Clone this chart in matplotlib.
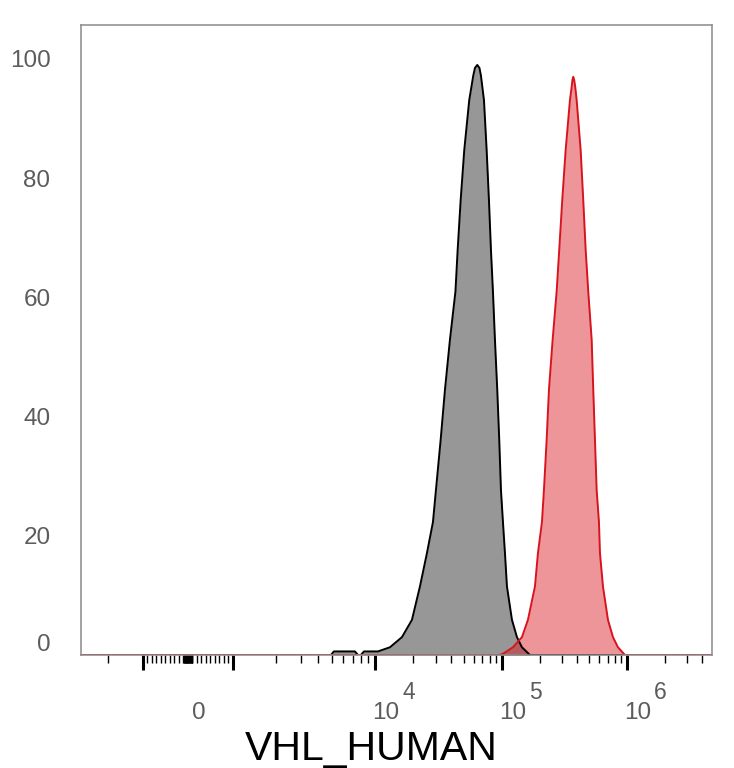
import matplotlib
matplotlib.use("Agg")
import matplotlib.pyplot as plt
import matplotlib.transforms as mtransforms
import numpy as np

plt.rcParams['font.family'] = ['Liberation Sans', 'DejaVu Sans']

# histogram traces (intensity, % of max)
gray_x = [-3420, 4900, 5140, 7230, 7590, 7960, 8370, 10560, 13130, 16320, 19560,
          22610, 25670, 28620, 30220, 32910, 35580, 38950, 43040, 44800, 47290,
          50480, 55260, 59430, 61300, 63920, 66490, 68330, 72170, 75780, 79000,
          81900, 84930, 88070, 91840, 95210, 98200, 101860, 105680, 109650,
          120230, 131830, 144540, 167490, 4.79e6]
gray_y = [0, 0, 0.6, 0.6, 0, 0, 0.6, 0.6, 1.3, 3.0, 5.9,
          11.5, 17.1, 22.3, 27.7, 36.1, 44.5, 52.9, 61.0, 68.0, 76.3,
          84.7, 93.1, 97.2, 98.5, 99.0, 98.5, 97.2, 93.1, 84.7, 76.3,
          68.0, 61.0, 52.9, 44.5, 36.1, 27.7, 22.3, 17.1, 11.5,
          5.9, 3.0, 1.3, 0, 0]

red_x = [-3420, 95000, 101860, 122460, 144540, 161440, 183650, 194090, 208930,
         216770, 227830, 237680, 254400, 273900, 287310, 303620, 323230, 349940,
         361100, 366400, 371870, 378100, 385800, 395910, 426170, 447090, 467290,
         490200, 522000, 537600, 554600, 572200, 597000, 608100, 642700, 704700,
         772700, 847200, 963800, 4.79e6]
red_y = [0, 0, 0.2, 1.3, 3.0, 5.9, 11.5, 17.1, 22.3,
         27.7, 36.1, 44.5, 52.9, 61.0, 68.0, 76.3, 84.7, 93.1,
         95.3, 96.5, 97.0, 96.5, 95.3, 93.1, 84.7, 76.3, 68.0,
         61.0, 52.9, 44.5, 36.1, 27.7, 22.3, 17.1, 11.5, 5.9,
         3.0, 1.3, 0, 0]

y_ticks = [0, 20, 40, 60, 80, 100]
x_label_pos = [0, 1e4, 1e5, 1e6]
x_label_txt = ['0', '10', '10', '10']
x_label_exp = ['', '4', '5', '6']
x_label = "VHL_HUMAN"

# biexponential-like display axis (linear near zero, log above 1000)
U_KNOTS = [-3, -2, -1, 0, 1, 2, 3, 4, 5]
P_KNOTS = [-89, 27, 143, 188, 233, 375, 502, 627, 752]

def forward(x):
    x = np.asarray(x, dtype=float)
    ax_ = np.maximum(np.abs(x), 1000.0)
    u = np.where(np.abs(x) <= 1000, x / 1000.0, np.sign(x) * (1 + np.log10(ax_ / 1000.0)))
    return np.interp(u, U_KNOTS, P_KNOTS, left=-89 - 116 * 5, right=752 + 125 * 5)

def inverse(p):
    p = np.asarray(p, dtype=float)
    u = np.interp(p, P_KNOTS, U_KNOTS)
    return np.where(np.abs(u) <= 1, u * 1000.0, np.sign(u) * 1000.0 * 10 ** (np.abs(u) - 1))

fig = plt.figure(figsize=(7.34, 7.68), dpi=100)
ax = fig.add_axes([81 / 734, 1 - 655 / 768, (712 - 81) / 734, (655 - 25) / 768])
ax.set_xscale('function', functions=(forward, inverse))

ax.fill_between(gray_x, gray_y, 0, color='#979797', lw=0)
ax.plot(gray_x, gray_y, color='black', lw=1.4)
ax.fill_between(red_x, red_y, 0, color=(0.86, 0.08, 0.12), alpha=0.45, lw=0)
ax.plot(red_x, red_y, color='#d7141e', lw=1.4)

ax.set_xlim(-3420, 4.79e6)
ax.set_ylim(0, 105.7)

# ticks
major = [-1e3, 1e3, 1e4, 1e5, 1e6]
minor = [-2e3]
minor += [s * k * 100 for s in (-1, 1) for k in range(1, 10)]
minor += [s * k * 10 for s in (-1, 1) for k in range(1, 10)] + [0]
for d in (1e3, 1e4, 1e5):
    minor += [k * d for k in range(2, 10)]
minor += [2e6, 3e6, 4e6]
ax.set_xticks(major)
ax.set_xticks(minor, minor=True)
ax.set_xticklabels([])
ax.set_xticklabels([], minor=True)
ax.tick_params(axis='x', which='major', direction='out', length=11, width=2.2, color='black')
ax.tick_params(axis='x', which='minor', direction='out', length=6, width=1.0, color='black')

ax.set_yticks(y_ticks)
ax.set_yticklabels([str(v) for v in y_ticks])
ax.tick_params(axis='y', length=0, pad=22, labelsize=17.5, labelcolor='#5c5c5c')
ax.get_yticklabels()[0].set_transform(
    ax.get_yticklabels()[0].get_transform() + mtransforms.ScaledTranslation(0, 9 / 72, fig.dpi_scale_trans))

for s in ax.spines.values():
    s.set_color('#8a8a8a')
    s.set_linewidth(1.1)

# x labels with raised exponents
blend = mtransforms.blended_transform_factory(ax.transData, ax.transAxes)
for pos, txt, ex in zip(x_label_pos, x_label_txt, x_label_exp):
    if ex == '':
        tr = mtransforms.offset_copy(blend, fig=fig, x=8, y=-42, units='points')
        ax.text(pos, 0, txt, transform=tr, ha='center', va='center', fontsize=17.5, color='#5c5c5c')
    else:
        tr = mtransforms.offset_copy(blend, fig=fig, x=-2.2, y=-42, units='points')
        ax.text(pos, 0, txt, transform=tr, ha='left', va='center', fontsize=17.5, color='#5c5c5c')
        tr2 = mtransforms.offset_copy(blend, fig=fig, x=19.5, y=-27, units='points')
        ax.text(pos, 0, ex, transform=tr2, ha='left', va='center', fontsize=16.5, color='#5c5c5c')

fig.text(371 / 734, 1 - 760 / 768, x_label, ha='center', va='baseline', fontsize=29.5, color='black')

fig.savefig('out.png', dpi=100)
